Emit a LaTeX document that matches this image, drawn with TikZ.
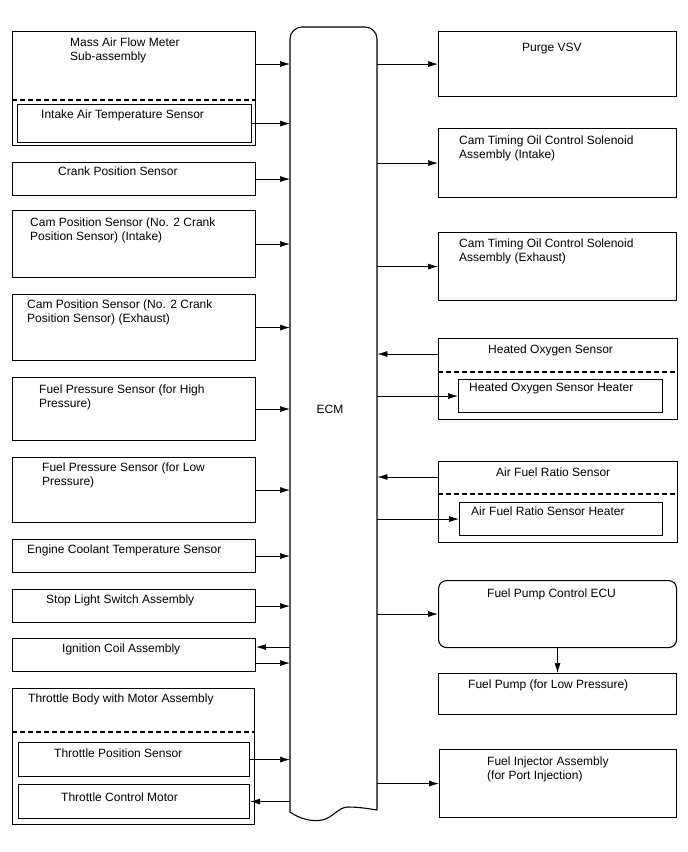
\documentclass[tikz,border=0pt]{standalone}
\usepackage{fontspec}
\setmainfont{Liberation Sans}
\usetikzlibrary{arrows.meta}

\begin{document}
\begin{tikzpicture}[x=1pt, y=-1pt, >={Latex[length=10pt,width=6pt]},
    box/.style={draw, line width=1.1pt, inner sep=0pt, anchor=north west},
    lbl/.style={anchor=west, inner sep=0pt, align=left, yshift=-1.5pt,
                font=\fontsize{12}{13.8}\selectfont},
    sig/.style={->, line width=0.7pt},
    sep/.style={line width=1.1pt, dash pattern=on 5pt off 3pt}]
    \useasboundingbox (0,0) rectangle (688,852);

    % ECM
    \node[inner sep=0pt, anchor=north west, minimum width=87pt, minimum height=785pt] (ecm) at (290,27) {};
    \draw[line width=1.1pt, rounded corners=12pt] (290,812) -- (290,27) -- (377,27) -- (377,810);
    \draw[line width=1.1pt] (290,812) .. controls (300,819) and (312,822) .. (322,820)
        .. controls (333,818) and (338,807) .. (348,807) .. controls (360,807) and (370,809) .. (377,810);
    \node[lbl, anchor=center] (ecmt) at (330,408) {ECM};

    % Left side boxes
    \node[box, minimum width=243pt, minimum height=114pt] (maf) at (12,31) {};
    \draw[sep] (12,100) -- (255,100);
    \node[box, minimum width=234pt, minimum height=38pt] (iat) at (17,104) {};
    \node[box, minimum width=243pt, minimum height=33pt] (crank) at (12,162) {};
    \node[box, minimum width=243pt, minimum height=67pt] (camin) at (12,210) {};
    \node[box, minimum width=243pt, minimum height=66pt] (camex) at (12,294) {};
    \node[box, minimum width=243pt, minimum height=63pt] (fphi) at (12,377) {};
    \node[box, minimum width=243pt, minimum height=65pt] (fplo) at (12,457) {};
    \node[box, minimum width=243pt, minimum height=33pt] (ect) at (12,539) {};
    \node[box, minimum width=243pt, minimum height=33pt] (stop) at (12,589) {};
    \node[box, minimum width=243pt, minimum height=33pt] (ign) at (12,638) {};
    \node[box, minimum width=242pt, minimum height=136pt] (tb) at (12,688) {};
    \draw[sep] (12,732) -- (254,732);
    \node[box, minimum width=231pt, minimum height=34pt] (tps) at (18,742) {};
    \node[box, minimum width=231pt, minimum height=34pt] (tcm) at (18,784) {};

    % Right side boxes
    \node[box, minimum width=238pt, minimum height=65pt] (purge) at (438,31) {};
    \node[box, minimum width=238pt, minimum height=69pt] (ctin) at (438,128) {};
    \node[box, minimum width=238pt, minimum height=68pt] (ctex) at (438,232) {};
    \node[box, minimum width=239pt, minimum height=81pt] (hos) at (438,338) {};
    \draw[sep] (438,372) -- (677,372);
    \node[box, minimum width=204pt, minimum height=33pt] (hosh) at (458,379) {};
    \node[box, minimum width=239pt, minimum height=81pt] (afr) at (438,461) {};
    \draw[sep] (438,494) -- (677,494);
    \node[box, minimum width=203pt, minimum height=33pt] (afrh) at (459,502) {};
    \node[box, rounded corners=8pt, minimum width=238pt, minimum height=67pt] (fpc) at (438,580) {};
    \node[box, minimum width=238pt, minimum height=41pt] (fp) at (438,673) {};
    \node[box, minimum width=237pt, minimum height=68pt] (inj) at (439,749) {};

    % Labels
    \node[lbl] (maft) at (70,49) {Mass Air Flow Meter\\Sub-assembly};
    \node[lbl] (iatt) at (41,114) {Intake Air Temperature Sensor};
    \node[lbl] (crankt) at (58,170) {Crank Position Sensor};
    \node[lbl] (camint) at (30,229) {Cam Position Sensor (No. 2 Crank\\Position Sensor) (Intake)};
    \node[lbl] (camext) at (27,311) {Cam Position Sensor (No. 2 Crank\\Position Sensor) (Exhaust)};
    \node[lbl] (fphit) at (39,396) {Fuel Pressure Sensor (for High\\Pressure)};
    \node[lbl] (fplot) at (42,474) {Fuel Pressure Sensor (for Low\\Pressure)};
    \node[lbl] (ectt) at (27,549) {Engine Coolant Temperature Sensor};
    \node[lbl] (stopt) at (46,599) {Stop Light Switch Assembly};
    \node[lbl] (ignt) at (62,648) {Ignition Coil Assembly};
    \node[lbl] (tbt) at (28,698) {Throttle Body with Motor Assembly};
    \node[lbl] (tpst) at (54,752) {Throttle Position Sensor};
    \node[lbl] (tcmt) at (61,796) {Throttle Control Motor};
    \node[lbl] (purget) at (522,47) {Purge VSV};
    \node[lbl] (ctint) at (459,147) {Cam Timing Oil Control Solenoid\\Assembly (Intake)};
    \node[lbl] (ctext) at (459,250) {Cam Timing Oil Control Solenoid\\Assembly (Exhaust)};
    \node[lbl] (host) at (488,349) {Heated Oxygen Sensor};
    \node[lbl] (hosht) at (469,387) {Heated Oxygen Sensor Heater};
    \node[lbl] (afrt) at (496,471) {Air Fuel Ratio Sensor};
    \node[lbl] (afrht) at (471,510) {Air Fuel Ratio Sensor Heater};
    \node[lbl] (fpct) at (487,593) {Fuel Pump Control ECU};
    \node[lbl] (fpt) at (468,684) {Fuel Pump (for Low Pressure)};
    \node[lbl] (injt) at (487,768) {Fuel Injector Assembly\\(for Port Injection)};

    % Arrow end points off the box middles
    \coordinate (mafout) at ([yshift=-33pt]maf.north east);
    \coordinate (ignin) at ([yshift=8pt]ign.east);
    \coordinate (ignout) at ([yshift=-8pt]ign.east);
    \coordinate (hosout) at ([yshift=-16pt]hos.north west);
    \coordinate (afrout) at ([yshift=-16pt]afr.north west);

    % Left side arrows
    \draw[sig] (mafout) -- (mafout -| ecm.west);
    \draw[sig] (iat.east) -- (iat.east -| ecm.west);
    \draw[sig] (crank.east) -- (crank.east -| ecm.west);
    \draw[sig] (camin.east) -- (camin.east -| ecm.west);
    \draw[sig] (camex.east) -- (camex.east -| ecm.west);
    \draw[sig] (fphi.east) -- (fphi.east -| ecm.west);
    \draw[sig] (fplo.east) -- (fplo.east -| ecm.west);
    \draw[sig] (ect.east) -- (ect.east -| ecm.west);
    \draw[sig] (stop.east) -- (stop.east -| ecm.west);
    \draw[sig] (ignin -| ecm.west) -- (ignin);
    \draw[sig] (ignout) -- (ignout -| ecm.west);
    \draw[sig] (tps.east) -- (tps.east -| ecm.west);
    \draw[sig] (tcm.east -| ecm.west) -- (tcm.east);

    % Right side arrows
    \draw[sig] (purge.west -| ecm.east) -- (purge.west);
    \draw[sig] (ctin.west -| ecm.east) -- (ctin.west);
    \draw[sig] (ctex.west -| ecm.east) -- (ctex.west);
    \draw[sig] (hosout) -- (hosout -| ecm.east);
    \draw[sig] (hosh.west -| ecm.east) -- (hosh.west);
    \draw[sig] (afrout) -- (afrout -| ecm.east);
    \draw[sig] (afrh.west -| ecm.east) -- (afrh.west);
    \draw[sig] (fpc.west -| ecm.east) -- (fpc.west);
    \draw[sig] (fpc.south) -- (fp.north);
    \draw[sig] (inj.west -| ecm.east) -- (inj.west);
\end{tikzpicture}
\end{document}
